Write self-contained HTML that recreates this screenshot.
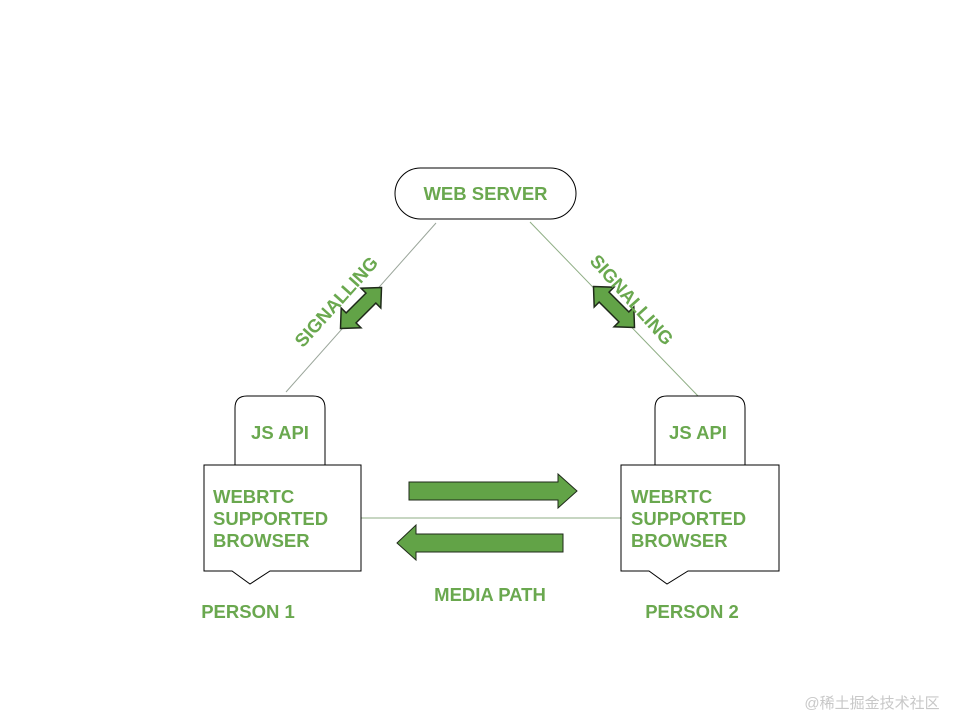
<!DOCTYPE html>
<html><head><style>body{margin:0;background:#fff}svg{display:block}text{font-family:"Liberation Sans",sans-serif;font-weight:bold;font-size:18.5px;fill:#6aa84f}</style></head>
<body>
<svg width="960" height="720" viewBox="0 0 960 720" xmlns="http://www.w3.org/2000/svg">
<defs>
<path id="dbl" d="M-29,0 L-14,-14 L-14,-7 L14,-7 L14,-14 L29,0 L14,14 L14,7 L-14,7 L-14,14 Z" fill="#62a347" stroke="#1f2a1a" stroke-width="1.5" stroke-linejoin="miter"/>
</defs>
<line x1="436" y1="223" x2="286" y2="392" stroke="#9aa59a" stroke-width="1"/>
<line x1="530" y1="222" x2="698" y2="396" stroke="#8fae85" stroke-width="1"/>
<line x1="361" y1="518" x2="621" y2="518" stroke="#8fae85" stroke-width="1"/>
<rect x="395" y="168" width="181" height="51" rx="25.5" fill="#fff" stroke="#000" stroke-width="1"/>
<text x="485.5" y="200" text-anchor="middle">WEB SERVER</text>
<path d="M235,465 V408 Q235,396 247,396 H313 Q325,396 325,408 V465" fill="#fff" stroke="#000"/>
<text x="280" y="439" text-anchor="middle">JS API</text>
<path d="M204,465 H361 V571 H270 L250,584 L232,571 H204 Z" fill="#fff" stroke="#000"/>
<text x="213" y="503">WEBRTC</text><text x="213" y="525">SUPPORTED</text><text x="213" y="547">BROWSER</text>
<text x="248" y="618" text-anchor="middle">PERSON 1</text>
<path d="M655,465 V408 Q655,396 667,396 H733 Q745,396 745,408 V465" fill="#fff" stroke="#000"/>
<text x="698" y="439" text-anchor="middle">JS API</text>
<path d="M621,465 H779 V571 H688 L667,584 L649,571 H621 Z" fill="#fff" stroke="#000"/>
<text x="631" y="503">WEBRTC</text><text x="631" y="525">SUPPORTED</text><text x="631" y="547">BROWSER</text>
<text x="692" y="618" text-anchor="middle">PERSON 2</text>
<path d="M409,482 H558 V474 L577,491 L558,508 V500 H409 Z" fill="#62a347" stroke="#1f2a1a" stroke-width="1"/>
<path d="M563,534 H416 V525 L397,543 L416,560 V552 H563 Z" fill="#62a347" stroke="#1f2a1a" stroke-width="1"/>
<text x="490" y="601" text-anchor="middle">MEDIA PATH</text>
<use href="#dbl" transform="translate(361,308) rotate(-45)"/>
<use href="#dbl" transform="translate(614,307) rotate(45)"/>
<text x="0" y="0" text-anchor="middle" transform="translate(341,306) rotate(-48)">SIGNALLING</text>
<text x="0" y="0" text-anchor="middle" transform="translate(627,304) rotate(48)">SIGNALLING</text>
<text x="872" y="708" text-anchor="middle" style="font-weight:normal;font-size:15px;fill:#c8c8c8;font-family:'Liberation Sans','Noto Sans CJK SC',sans-serif">@稀土掘金技术社区</text>
</svg>
</body></html>
